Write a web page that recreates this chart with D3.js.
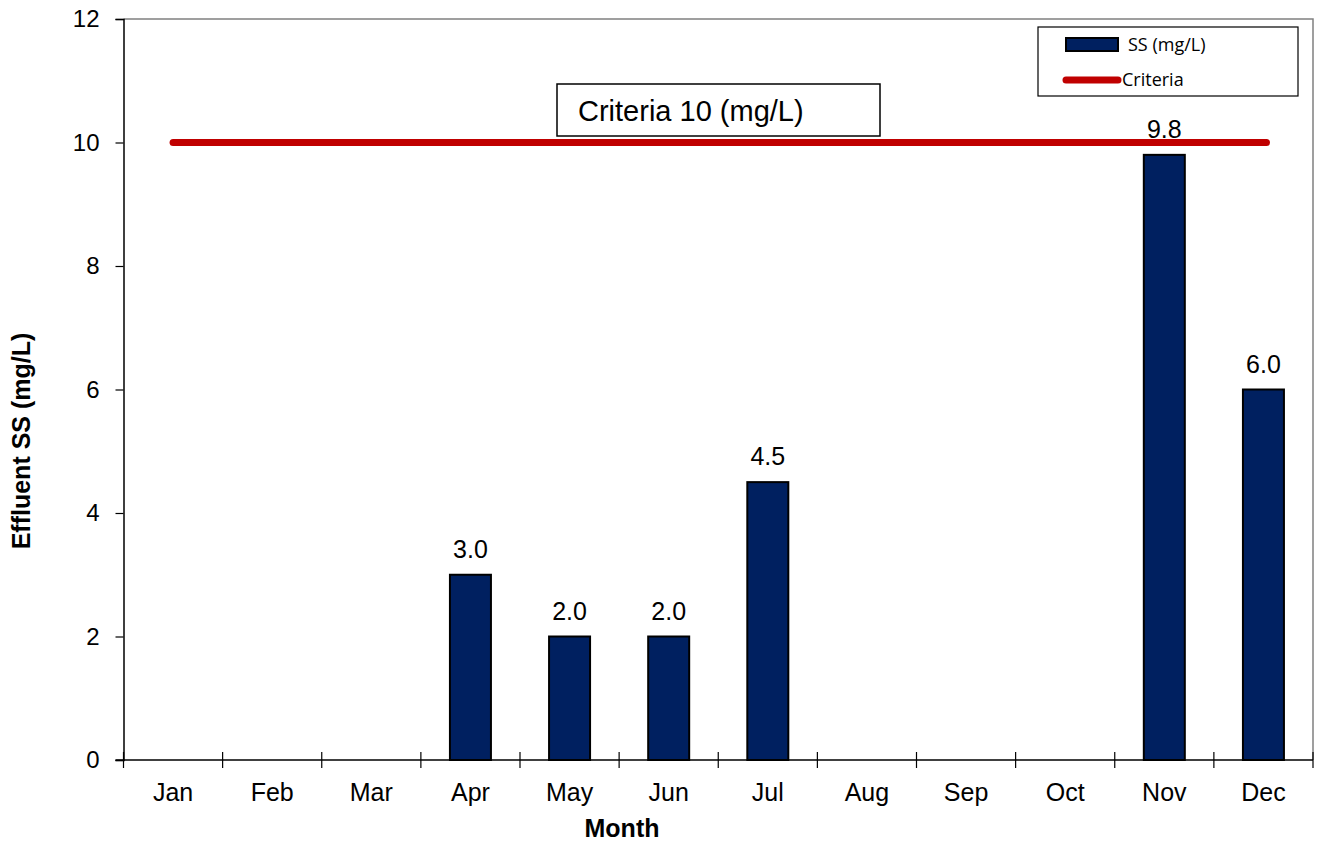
<!DOCTYPE html>
<html>
<head>
<meta charset="utf-8">
<script src="https://cdn.jsdelivr.net/npm/d3@7"></script>
<style>
  body { margin: 0; background: #fff; }
  svg { display: block; }
</style>
</head>
<body>
<svg id="chart" width="1325" height="842"></svg>
<script>
// Monthly effluent suspended solids with the 10 mg/L discharge criterion
const months = ["Jan", "Feb", "Mar", "Apr", "May", "Jun", "Jul", "Aug", "Sep", "Oct", "Nov", "Dec"];
const ssValues = [null, null, null, 3.0, 2.0, 2.0, 4.5, null, null, null, 9.8, 6.0];
const criteriaValue = 10;
const yTicks = [0, 2, 4, 6, 8, 10, 12];

const svg = d3.select("#chart");
const margin = { left: 123.5, right: 1313, top: 19, bottom: 760 };
const FONT = "Liberation Sans, Arial, sans-serif";

const x = d3.scaleBand().domain(months).range([margin.left, margin.right]).paddingInner(0).paddingOuter(0);
const y = d3.scaleLinear().domain([0, 12]).range([margin.bottom, margin.top]);
const barW = 41;

// plot area frame (grey top and right edges)
svg.append("path")
  .attr("d", `M${margin.left},${margin.top}H${margin.right}V${margin.bottom}`)
  .attr("fill", "none").attr("stroke", "#808080").attr("stroke-width", 1.5);

// bars
const bars = months.map((m, i) => ({ m, v: ssValues[i] })).filter(d => d.v !== null);
svg.selectAll("rect.bar").data(bars).enter().append("rect")
  .attr("class", "bar")
  .attr("x", d => x(d.m) + x.bandwidth() / 2 - barW / 2)
  .attr("y", d => y(d.v))
  .attr("width", barW)
  .attr("height", d => y(0) - y(d.v))
  .attr("fill", "#002060")
  .attr("stroke", "#000").attr("stroke-width", 2);

// value labels
svg.selectAll("text.val").data(bars).enter().append("text")
  .attr("class", "val")
  .attr("x", d => x(d.m) + x.bandwidth() / 2)
  .attr("y", d => y(d.v) - 17)
  .attr("text-anchor", "middle")
  .attr("font-family", FONT)
  .attr("font-size", 25)
  .text(d => d.v.toFixed(1));

// criteria line from first to last month centre
svg.append("line")
  .attr("x1", x(months[0]) + x.bandwidth() / 2)
  .attr("x2", x(months[months.length - 1]) + x.bandwidth() / 2 + 3)
  .attr("y1", y(criteriaValue)).attr("y2", y(criteriaValue))
  .attr("stroke", "#C00000").attr("stroke-width", 7).attr("stroke-linecap", "round");

// y axis
const yAxis = svg.append("g").attr("transform", `translate(${margin.left},0)`)
  .call(d3.axisLeft(y).tickValues(yTicks).tickSize(8).tickPadding(16).tickFormat(d3.format("d")));
yAxis.select(".domain").attr("stroke", "#000").attr("stroke-width", 1.5);
yAxis.selectAll(".tick line").attr("stroke", "#000").attr("stroke-width", 1.2);
yAxis.selectAll("text").attr("font-family", FONT).attr("font-size", 24).attr("fill", "#000");

// x axis with category boundary ticks crossing the line
const xg = svg.append("g").attr("transform", `translate(0,${margin.bottom})`);
xg.append("line").attr("x1", margin.left - 8).attr("x2", margin.right)
  .attr("stroke", "#000").attr("stroke-width", 1.5);
const bounds = months.map(m => x(m)).concat([margin.right]);
xg.selectAll("line.tk").data(bounds).enter().append("line")
  .attr("class", "tk")
  .attr("x1", d => d).attr("x2", d => d)
  .attr("y1", -8).attr("y2", 8)
  .attr("stroke", "#000").attr("stroke-width", 1.2);
xg.selectAll("text").data(months).enter().append("text")
  .attr("x", d => x(d) + x.bandwidth() / 2)
  .attr("y", 41)
  .attr("text-anchor", "middle")
  .attr("font-family", FONT)
  .attr("font-size", 25)
  .text(d => d);

// axis titles
svg.append("text")
  .attr("x", 622).attr("y", 837)
  .attr("text-anchor", "middle")
  .attr("font-family", FONT)
  .attr("font-size", 25).attr("font-weight", "bold")
  .text("Month");
svg.append("text")
  .attr("transform", `translate(30,441) rotate(-90)`)
  .attr("text-anchor", "middle")
  .attr("font-family", FONT)
  .attr("font-size", 25).attr("font-weight", "bold")
  .text("Effluent SS (mg/L)");

// criteria annotation box
svg.append("rect")
  .attr("x", 557).attr("y", 84).attr("width", 323).attr("height", 52)
  .attr("fill", "#fff").attr("stroke", "#000").attr("stroke-width", 1.5);
svg.append("text")
  .attr("x", 578).attr("y", 121)
  .attr("font-family", FONT)
  .attr("font-size", 29)
  .text("Criteria " + criteriaValue + " (mg/L)");

// legend
const lg = svg.append("g");
lg.append("rect").attr("x", 1038).attr("y", 27).attr("width", 260).attr("height", 69)
  .attr("fill", "#fff").attr("stroke", "#000").attr("stroke-width", 1.2);
lg.append("rect").attr("x", 1066).attr("y", 38).attr("width", 52).attr("height", 13)
  .attr("fill", "#002060").attr("stroke", "#000").attr("stroke-width", 2);
lg.append("text").attr("x", 1128).attr("y", 51)
  .attr("font-family", "Open Sans, Liberation Sans, sans-serif").attr("font-size", 18)
  .text("SS (mg/L)");
lg.append("line").attr("x1", 1066).attr("x2", 1118).attr("y1", 80).attr("y2", 80)
  .attr("stroke", "#C00000").attr("stroke-width", 7).attr("stroke-linecap", "round");
lg.append("text").attr("x", 1122).attr("y", 86)
  .attr("font-family", "Open Sans, Liberation Sans, sans-serif").attr("font-size", 18)
  .text("Criteria");
</script>
</body>
</html>
